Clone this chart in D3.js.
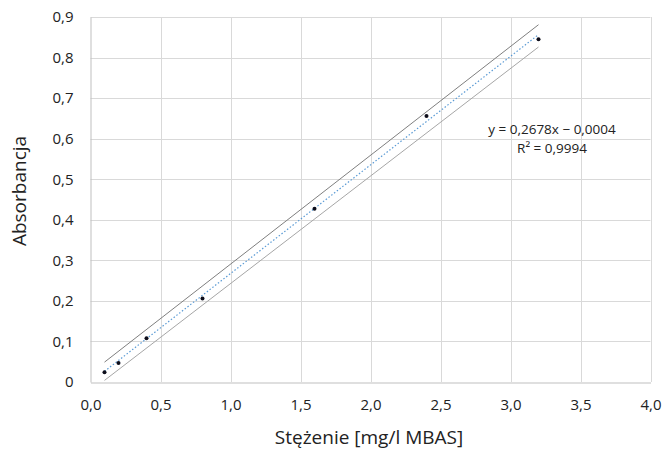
<!DOCTYPE html>
<html><head><meta charset="utf-8">
<script src="https://cdn.jsdelivr.net/npm/d3@7"></script>
<style>body{margin:0;background:#fff}svg{display:block}text{font-family:"Open Sans",sans-serif;fill:#222}</style>
</head><body><svg id="c" width="665" height="450"></svg>
<script>
const concentrations = [0.1, 0.2, 0.4, 0.8, 1.6, 2.4, 3.2];
const absorbances = [0.024, 0.047, 0.108, 0.206, 0.427, 0.656, 0.845];
const upperBand = [[0.1, 0.049], [3.2, 0.881]];
const lowerBand = [[0.1, 0.004], [3.2, 0.826]];
const slope = 0.2678, intercept = -0.0004;
const xTicks = [0, 0.5, 1, 1.5, 2, 2.5, 3, 3.5, 4];
const yTicks = [0, 0.1, 0.2, 0.3, 0.4, 0.5, 0.6, 0.7, 0.8, 0.9];
const eqLabel = "y = 0,2678x − 0,0004";
const r2Label = "R² = 0,9994";
const xTitle = "Stężenie [mg/l MBAS]";
const yTitle = "Absorbancja";

const svg = d3.select("#c");
const x = d3.scaleLinear().domain([0, 4]).range([90.5, 650.5]);
const y = d3.scaleLinear().domain([0, 0.9]).range([382, 17]);
const fmtX = d => d3.format(".1f")(d).replace(".", ",");
const fmtY = d => d === 0 ? "0" : d3.format(".1f")(d).replace(".", ",");

// grid
svg.append("g").selectAll("line").data(yTicks.slice(1)).join("line")
  .attr("x1", x(0)).attr("x2", x(4)).attr("y1", d => Math.round(y(d)) + 0.5).attr("y2", d => Math.round(y(d)) + 0.5)
  .attr("stroke", "#d9d9d9");
svg.append("g").selectAll("line").data(xTicks.slice(1)).join("line")
  .attr("x1", d => Math.round(x(d)) + 0.5).attr("x2", d => Math.round(x(d)) + 0.5).attr("y1", y(0)).attr("y2", y(0.9))
  .attr("stroke", "#d9d9d9");

// axes
const xAxis = svg.append("g").attr("transform", `translate(0,${y(0) + 0.5})`)
  .call(d3.axisBottom(x).tickValues(xTicks).tickFormat(fmtX).tickSize(0).tickPadding(17));
const yAxis = svg.append("g").attr("transform", `translate(${x(0)},0)`)
  .call(d3.axisLeft(y).tickValues(yTicks).tickFormat(fmtY).tickSize(0).tickPadding(17));
[xAxis, yAxis].forEach(a => {
  a.select(".domain").attr("stroke", "#bfbfbf");
  a.selectAll("text").attr("font-size", 15).attr("fill", "#222").style("font-family", "'Open Sans',sans-serif");
});

// bands
const line = d3.line().x(d => x(d[0])).y(d => y(d[1]));
svg.append("path").attr("d", line(upperBand)).attr("stroke", "#7f7f7f").attr("fill", "none").attr("stroke-width", 1);
svg.append("path").attr("d", line(lowerBand)).attr("stroke", "#a6a6a6").attr("fill", "none").attr("stroke-width", 1);

// trend
const xs = d3.extent(concentrations);
svg.append("path").attr("d", line(xs.map(v => [v, slope * v + intercept])))
  .attr("stroke", "#5b9bd5").attr("stroke-dasharray", "1.5,2").attr("fill", "none").attr("stroke-width", 1.2);

// points
svg.append("g").selectAll("circle").data(concentrations).join("circle")
  .attr("cx", d => x(d)).attr("cy", (d, i) => y(absorbances[i])).attr("r", 2).attr("fill", "#0d0d1a");

// equation
svg.append("text").attr("x", 552).attr("y", 134).attr("text-anchor", "middle").attr("font-size", 13.5).text(eqLabel);
svg.append("text").attr("x", 552).attr("y", 153).attr("text-anchor", "middle").attr("font-size", 13.5).text(r2Label);

// titles
svg.append("text").attr("x", 369).attr("y", 444).attr("text-anchor", "middle").attr("font-size", 19).text(xTitle);
svg.append("text").attr("transform", "translate(26,191) rotate(-90)").attr("text-anchor", "middle").attr("font-size", 19).text(yTitle);
</script></body></html>
